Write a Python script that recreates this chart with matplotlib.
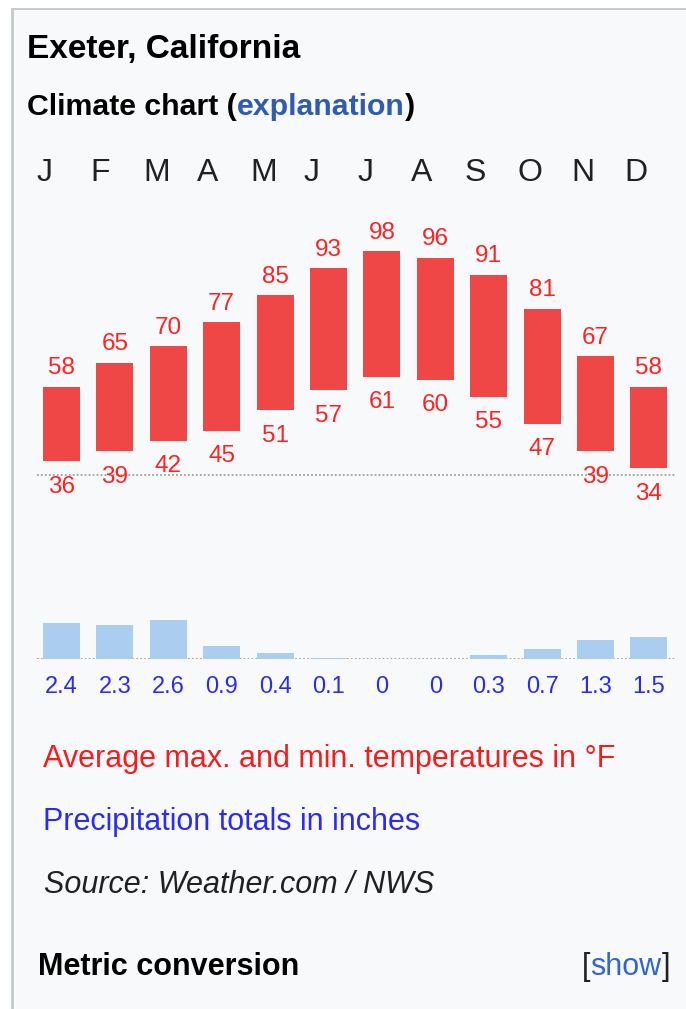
import matplotlib
matplotlib.use("Agg")
import matplotlib.pyplot as plt
from matplotlib.patches import Rectangle
import matplotlib.transforms as mtrans

# data
months = ["J", "F", "M", "A", "M", "J", "J", "A", "S", "O", "N", "D"]
temp_max = [58, 65, 70, 77, 85, 93, 98, 96, 91, 81, 67, 58]
temp_min = [36, 39, 42, 45, 51, 57, 61, 60, 55, 47, 39, 34]
precip = [2.4, 2.3, 2.6, 0.9, 0.4, 0.1, 0, 0, 0.3, 0.7, 1.3, 1.5]
precip_labels = ["2.4", "2.3", "2.6", "0.9", "0.4", "0.1", "0", "0", "0.3", "0.7", "1.3", "1.5"]

W, H = 686, 1009
plt.rcParams['font.family'] = ['Liberation Sans', 'DejaVu Sans']

fig = plt.figure(figsize=(W / 100, H / 100), dpi=100)
fig.patch.set_facecolor('white')

def fx(px):
    return px / W

def fy(py):
    return 1 - py / H

def pt(px):
    return px * 0.72

# box background + left/top border (behind the axes)
fig.patches.append(Rectangle((fx(11), 0), 1, fy(8), transform=fig.transFigure,
                             facecolor='#f8f9fa', edgecolor='none', zorder=-2))
fig.patches.append(Rectangle((fx(11), 0), fx(3), fy(8), transform=fig.transFigure,
                             facecolor='#c8ccd1', edgecolor='none', zorder=-1))
fig.patches.append(Rectangle((fx(11), fy(10)), 1, 2 / H, transform=fig.transFigure,
                             facecolor='#c8ccd1', edgecolor='none', zorder=-1))

x = list(range(12))
step = 53.4
left_px = 61.5 - step / 2

# temperature axes: 3.39 px per degree, 58F at y=386.7
ppd = 3.39
t_lo, t_hi = 20, 110
top_px = 386.7 - (t_hi - 58) * ppd
bot_px = 386.7 + (58 - t_lo) * ppd
ax = fig.add_axes([fx(left_px), fy(bot_px), 12 * step / W, (bot_px - top_px) / H])
ax.set_xlim(-0.5, 11.5)
ax.set_ylim(t_lo, t_hi)
ax.axis('off')
heights = [a - b for a, b in zip(temp_max, temp_min)]
ax.bar(x, heights, bottom=temp_min, width=0.69, color='#ef4646', zorder=3)
ax.axhline(32, xmin=0.003, xmax=1.0, color='#a89e92', linestyle=(0, (1, 1.2)), lw=1.3, zorder=2)
for i in x:
    ax.annotate(str(temp_max[i]), (i, temp_max[i]), xytext=(0, pt(12.5)),
                textcoords='offset points', ha='center', va='baseline',
                fontsize=17.5, color='#ff2222')
    ax.annotate(str(temp_min[i]), (i, temp_min[i]), xytext=(0, -pt(31.5)),
                textcoords='offset points', ha='center', va='baseline',
                fontsize=17.5, color='#ff2222')

# month letters
trans = mtrans.blended_transform_factory(ax.transData, fig.transFigure)
for i, m in enumerate(months):
    ax.text(i - 0.46, fy(181), m, transform=trans, ha='left', va='baseline',
            fontsize=23, color='#202122')

# precipitation axes: 15 px per inch, baseline at y=659
ppi = 15.0
p_hi = 4
base_px = 659
axp = fig.add_axes([fx(left_px), fy(base_px), 12 * step / W, p_hi * ppi / H])
axp.set_xlim(-0.5, 11.5)
axp.set_ylim(0, p_hi)
axp.axis('off')
axp.bar(x, precip, width=0.69, color='#abcdef', zorder=3)
axp.axhline(0, xmin=0.003, xmax=1.0, color='#a89e92', linestyle=(0, (1, 1.2)), lw=1.3, zorder=2)
for i in x:
    axp.annotate(precip_labels[i], (i, 0), xytext=(0, -pt(34)),
                 textcoords='offset points', ha='center', va='baseline',
                 fontsize=17, color='#2b2bf0')

# header text
fig.text(fx(27), fy(58), "Exeter, California", fontsize=24, fontweight='bold',
         color='#000000', va='baseline')
t1 = fig.text(fx(27), fy(115), "Climate chart (", fontsize=21.8, fontweight='bold',
              color='#000000', va='baseline')
fig.canvas.draw()
r = fig.canvas.get_renderer()
bb = t1.get_window_extent(r)
t2 = fig.text(bb.x1 / W, fy(115), "explanation", fontsize=21.8, fontweight='bold',
              color='#2f5bb0', va='baseline')
bb2 = t2.get_window_extent(r)
fig.text(bb2.x1 / W, fy(115), ")", fontsize=21.8, fontweight='bold',
         color='#000000', va='baseline')

# legend text
fig.text(fx(43), fy(767), "Average max. and min. temperatures in °F", fontsize=22,
         color='#f51c1c', va='baseline')
fig.text(fx(43), fy(830), "Precipitation totals in inches", fontsize=22,
         color='#2b2bf5', va='baseline')
fig.text(fx(44), fy(893), "Source: Weather.com / NWS", fontsize=22, style='italic',
         color='#202122', va='baseline')
fig.text(fx(38), fy(975), "Metric conversion", fontsize=22, fontweight='bold',
         color='#000000', va='baseline')
s1 = fig.text(fx(670), fy(975), "]", fontsize=22, color='#202122', va='baseline', ha='right')
bb3 = s1.get_window_extent(r)
s2 = fig.text(bb3.x0 / W, fy(975), "show", fontsize=22, color='#3366cc', va='baseline', ha='right')
bb4 = s2.get_window_extent(r)
fig.text(bb4.x0 / W, fy(975), "[", fontsize=22, color='#202122', va='baseline', ha='right')

fig.savefig("out.png", dpi=100, facecolor=fig.get_facecolor())
